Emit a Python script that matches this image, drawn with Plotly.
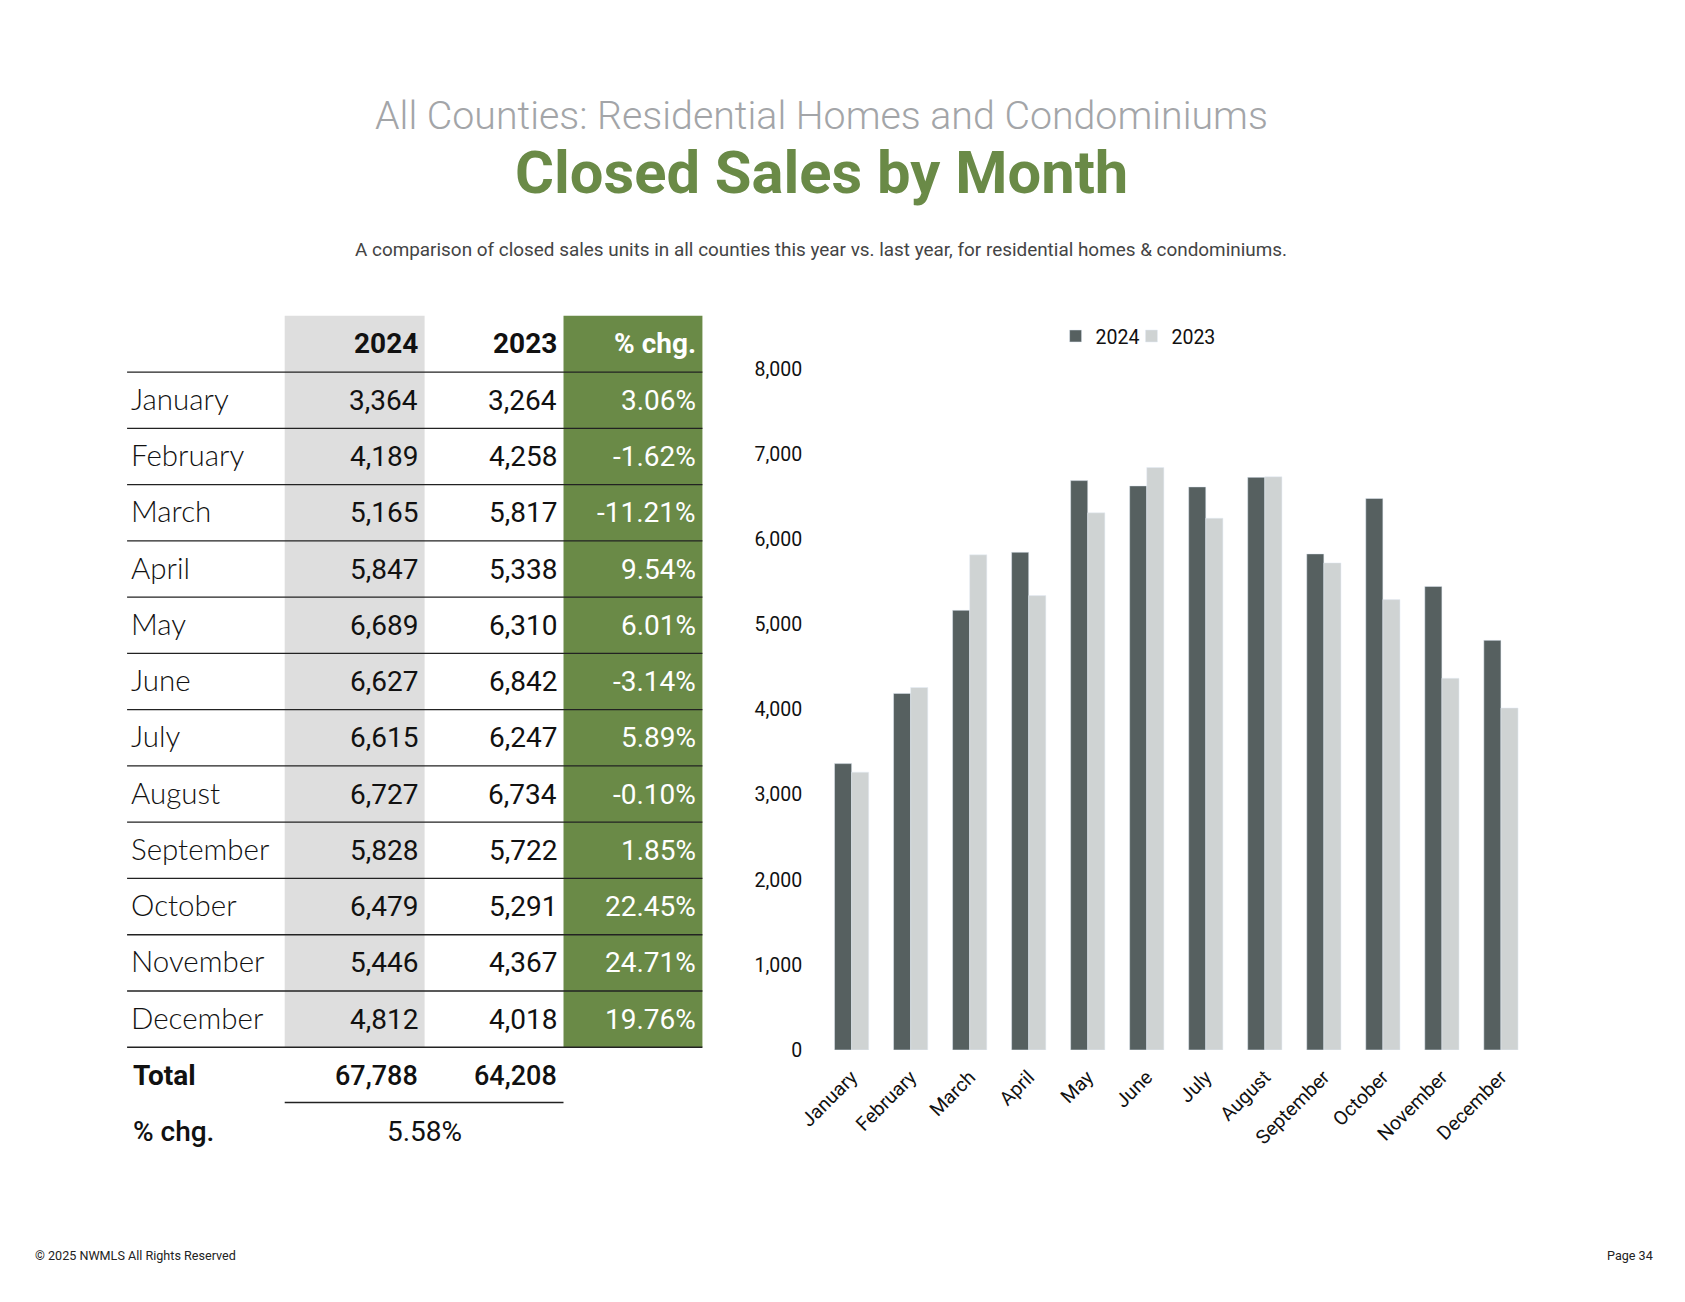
import plotly.graph_objects as go

# ------------data
months = ["January", "February", "March", "April", "May", "June",
          "July", "August", "September", "October", "November", "December"]
sales_2024 = [3364, 4189, 5165, 5847, 6689, 6627, 6615, 6727, 5828, 6479, 5446, 4812]
sales_2023 = [3264, 4258, 5817, 5338, 6310, 6842, 6247, 6734, 5722, 5291, 4367, 4018]
pct_chg = ["3.06%", "-1.62%", "-11.21%", "9.54%", "6.01%", "-3.14%",
           "5.89%", "-0.10%", "1.85%", "22.45%", "24.71%", "19.76%"]
total_2024 = 67788
total_2023 = 64208
total_chg = "5.58%"
y_ticks = [0, 1000, 2000, 3000, 4000, 5000, 6000, 7000, 8000]

# ------------defines
W, H = 1685, 1302
FONT = "Roboto"
LIGHT_FONT = "Lato"
GREEN = "#6a8a47"
DARK = "#566060"
LIGHT = "#cfd3d3"
GRAY_COL = "#dedede"


def px(x):
    return x / W


def py(y):
    return 1 - y / H


# table geometry (pixels)
col_left, col_2024, col_2023, col_chg, col_right = 95.5, 255.5, 397.5, 538.5, 679.5
head_top, head_line = 302, 359.5
row_h = 57.27


def text(x, y, s, size=28, color="#111111", weight=400, anchor="left", family=FONT):
    return dict(x=px(x), y=py(y), xref="paper", yref="paper", text=s,
                showarrow=False, xanchor=anchor, yanchor="middle",
                font=dict(family=family, size=size, color=color, weight=weight))


shapes = []
annotations = []

# column fills
shapes.append(dict(type="rect", xref="paper", yref="paper", line_width=0,
                   x0=px(col_2024), x1=px(col_2023),
                   y0=py(head_top), y1=py(head_line + 12 * row_h),
                   fillcolor=GRAY_COL, layer="below"))
shapes.append(dict(type="rect", xref="paper", yref="paper", line_width=0,
                   x0=px(col_chg), x1=px(col_right),
                   y0=py(head_top), y1=py(head_line + 12 * row_h),
                   fillcolor=GREEN, layer="below"))

# row rules
for i in range(13):
    yy = head_line + i * row_h
    shapes.append(dict(type="line", xref="paper", yref="paper",
                       x0=px(col_left), x1=px(col_right), y0=py(yy), y1=py(yy),
                       line=dict(color="#222222", width=1.3)))

# header
hy = (head_top + head_line) / 2
annotations.append(text(col_2023 - 5, hy, "<b>2024</b>", weight=700, anchor="right"))
annotations.append(text(col_chg - 5, hy, "<b>2023</b>", weight=700, anchor="right"))
annotations.append(text(col_right - 4, hy, "<b>% chg.</b>", color="white", weight=700, anchor="right"))

# month rows
for i, m in enumerate(months):
    yy = head_line + (i + 0.5) * row_h
    annotations.append(text(col_left + 2, yy - 2, m, size=29.5, weight=300, family=LIGHT_FONT))
    annotations.append(text(col_2023 - 5, yy, f"{sales_2024[i]:,}", anchor="right"))
    annotations.append(text(col_chg - 5, yy, f"{sales_2023[i]:,}", anchor="right"))
    annotations.append(text(col_right - 4, yy, pct_chg[i], color="white", anchor="right"))

# totals
ty = 1075.5
annotations.append(text(col_left + 4, ty, "<b>Total</b>", weight=700))
annotations.append(text(col_2023 - 5, ty, f"{total_2024:,}", size=27, weight=500, anchor="right"))
annotations.append(text(col_chg - 5, ty, f"{total_2023:,}", size=27, weight=500, anchor="right"))
shapes.append(dict(type="line", xref="paper", yref="paper",
                   x0=px(col_2024), x1=px(col_chg), y0=py(1103), y1=py(1103),
                   line=dict(color="#222222", width=1.3)))
annotations.append(text(col_left + 4, 1132.5, "% chg.", weight=500))
annotations.append(text(col_2023, 1132.5, total_chg, anchor="center"))

# titles
annotations.append(text(800, 99, "All Counties: Residential Homes and Condominiums",
                        size=39.3, color="#a3a5a8", weight=300, anchor="center", family=FONT))
annotations.append(text(800, 157, "<b>Closed Sales by Month</b>",
                        size=59.7, color=GREEN, weight=700, anchor="center"))
annotations.append(text(800, 235,
                        "A comparison of closed sales units in all counties this year vs. last year, "
                        "for residential homes & condominiums.",
                        size=18.9, color="#444444", anchor="center"))

# footer
annotations.append(text(0, 1258.5, "© 2025 NWMLS All Rights Reserved", size=12.6, color="#222222"))
annotations.append(text(1646, 1258.5, "Page 34", size=12.6, color="#222222", anchor="right"))

# ------------chart
fig = go.Figure()
fig.add_trace(go.Bar(x=months, y=sales_2024, name="2024", marker_color=DARK,
                     legend="legend", showlegend=True))
fig.add_trace(go.Bar(x=months, y=sales_2023, name="2023", marker_color=LIGHT,
                     legend="legend2", showlegend=True))

legend_style = dict(orientation="h", xanchor="left", yanchor="middle", y=py(323),
                    font=dict(family=FONT, size=19.5, color="#111111"), itemwidth=30,
                    bgcolor="rgba(0,0,0,0)", visible=True)

fig.update_layout(
    width=W, height=H,
    margin=dict(l=0, r=0, t=0, b=0),
    paper_bgcolor="white", plot_bgcolor="white",
    showlegend=True,
    barmode="group", bargap=0.42, bargroupgap=0,
    font=dict(family=FONT, color="#111111"),
    shapes=shapes, annotations=annotations,
    legend=dict(x=px(1038), **legend_style),
    legend2=dict(x=px(1115), **legend_style),
    xaxis=dict(domain=[px(801), px(1520)], tickangle=-45, showline=False,
               showgrid=False, ticklabelstandoff=11,
               tickfont=dict(family=FONT, size=19.5, color="#111111")),
    yaxis=dict(domain=[py(1049.5), py(356.3)], range=[0, 8000], tickvals=y_ticks,
               tickformat=",", showgrid=False, zeroline=False, showline=False,
               ticklabelstandoff=19, tickfont=dict(family=FONT, size=19.5, color="#111111")),
)

fig.write_html("out.html")
